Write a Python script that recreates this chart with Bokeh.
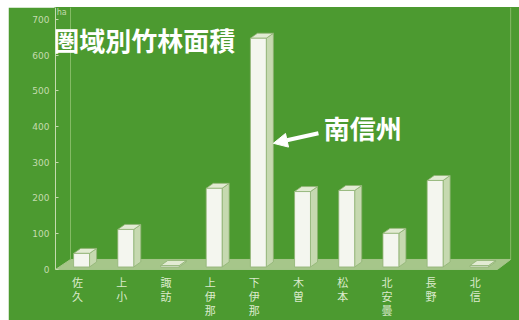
from bokeh.plotting import figure
from bokeh.models import Range1d, FixedTicker, Label, Arrow, NormalHead, ColumnDataSource
from bokeh.core.properties import value
from bokeh.embed import file_html
from bokeh.resources import INLINE

# ---- data ----
categories = ["佐久", "上小", "諏訪", "上伊那", "下伊那", "木曽", "松本", "北安曇", "長野", "北信"]
values = [45, 112, 3, 227, 647, 218, 221, 101, 249, 3]
y_ticks = [0, 100, 200, 300, 400, 500, 600, 700]
unit_label = "ha"
title_text = "圏域別竹林面積"
callout_text = "南信州"
callout_index = 4

# ---- style ----
GREEN = "#4c9a30"
LIGHT = "#c4dbae"
FACE = "#f4f6ef"
SIDE = "#c6d9b0"
CAP = "#e2ebd3"
FLOOR = "#a6c68a"
EDGE = "#8fb274"
FONT = "Noto Sans CJK JP"

px_per_unit = 250 / 700.0
Y_END = 733
Y_START = -51 / px_per_unit
p = figure(width=511, height=313, output_backend="svg", toolbar_location=None,
           x_range=Range1d(-0.5, 10.0), y_range=Range1d(Y_START, Y_END),
           min_border_left=47, min_border_right=0, min_border_top=0, min_border_bottom=0)
p.margin = (7, 0, 0, 8)
p.background_fill_color = GREEN
p.border_fill_color = GREEN
p.outline_line_color = GREEN
p.outline_line_width = 2
p.grid.visible = False
p.xaxis.visible = False

# y axis
p.yaxis.ticker = FixedTicker(ticks=y_ticks)
p.yaxis.bounds = (0, Y_END)
p.yaxis.axis_line_color = LIGHT
p.yaxis.major_tick_line_color = LIGHT
p.yaxis.major_tick_in = 3
p.yaxis.major_tick_out = 0
p.yaxis.minor_tick_line_color = None
p.yaxis.major_label_text_color = LIGHT
p.yaxis.major_label_text_font_size = "9px"
p.yaxis.major_label_text_font = "DejaVu Sans"
p.yaxis.major_label_standoff = 6

# stacked (vertical) category labels below the floor
lx, ly, lt = [], [], []
for i, c in enumerate(categories):
    for k, ch in enumerate(c):
        lx.append(i)
        ly.append(-(13 + 14 * k) / px_per_unit)
        lt.append(ch)
p.text(x="x", y="y", text="t", source=ColumnDataSource(dict(x=lx, y=ly, t=lt)),
       text_color="#dbeacc", text_font_size="11px", text_font=value(FONT),
       text_align="center", text_baseline="middle")

# 3D floor and walls
floor_depth_x, floor_depth_y = 0.34, 28
x0, x1 = -0.5, len(categories) - 0.5
p.patch([x0, x0 + floor_depth_x, x1 + 0.3, x1], [0, floor_depth_y, floor_depth_y, 0],
        fill_color=FLOOR, line_color=FLOOR)
p.segment(x0=[x0 + floor_depth_x, x1 + 0.3], y0=[floor_depth_y] * 2,
          x1=[x0 + floor_depth_x, x1 + 0.3], y1=[Y_END, Y_END],
          line_color="#86bb66", line_width=1)

# 3D bars (near-zero values drawn as wide flat slabs, as in the original)
base = 7
dx, dy = 0.16, 14
fl, fr = -0.09, 0.27
faces_l, faces_r, tops, bots = [], [], [], []
side_xs, side_ys, cap_xs, cap_ys = [], [], [], []
for i, v in enumerate(values):
    if v < 10:
        L, R = i - 0.12, i + 0.30
    else:
        L, R = i + fl, i + fr
    t = max(v, base + 4)
    faces_l.append(L); faces_r.append(R); tops.append(t); bots.append(base)
    side_xs.append([R, R + dx, R + dx, R]); side_ys.append([base, base + dy, t + dy, t])
    cap_xs.append([L, L + dx, R + dx, R]); cap_ys.append([t, t + dy, t + dy, t])

p.patches(side_xs, side_ys, fill_color=SIDE, line_color=EDGE, line_width=0.8)
p.patches(cap_xs, cap_ys, fill_color=CAP, line_color=EDGE, line_width=0.8)
p.quad(left=faces_l, right=faces_r, top=tops, bottom=bots,
       fill_color=FACE, line_color=EDGE, line_width=0.8)

# unit label
p.add_layout(Label(x=-0.36, y=720, text=unit_label, text_color=LIGHT, text_font_size="8px",
                   text_font="DejaVu Sans", text_align="center", text_baseline="middle"))

# title (right end anchored)
p.add_layout(Label(x=3.57, y=644, text=title_text, text_color="white", text_font_size="26px",
                   text_font=FONT, text_font_style="bold", text_align="right",
                   text_baseline="middle"))

# callout
cx = callout_index + fr + dx
p.add_layout(Arrow(x_start=cx + 1.02, y_start=381, x_end=cx, y_end=353,
                   line_color="white", line_width=4,
                   end=NormalHead(size=14, fill_color="white", line_color="white")))
p.add_layout(Label(x=cx + 1.14, y=398, text=callout_text, text_color="white", text_font_size="26px",
                   text_font=FONT, text_font_style="bold", text_baseline="middle"))

open("out.html", "w").write(file_html(p, INLINE))
